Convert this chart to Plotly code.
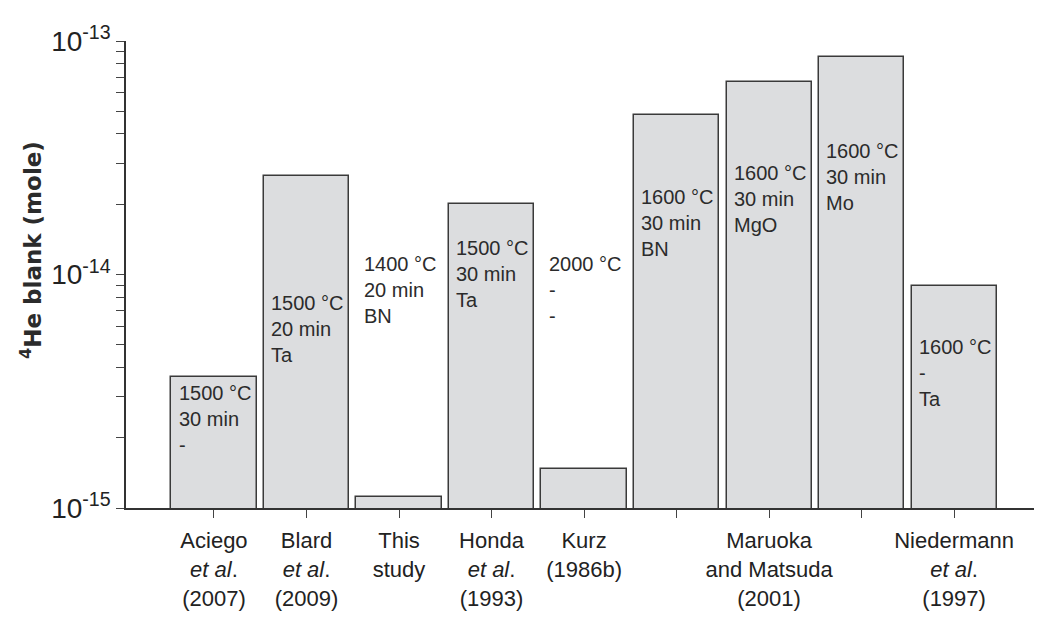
import plotly.graph_objects as go

# ---- data ----
categories = ["Aciego", "Blard", "This study", "Honda", "Kurz",
              "Maruoka BN", "Maruoka MgO", "Maruoka Mo", "Niedermann"]
he_blank = [3.65e-15, 2.64e-14, 1.12e-15, 2.0e-14, 1.465e-15,
            4.82e-14, 6.69e-14, 8.57e-14, 8.96e-15]
conditions = [
    ["1500 °C", "30 min", "-"],
    ["1500 °C", "20 min", "Ta"],
    ["1400 °C", "20 min", "BN"],
    ["1500 °C", "30 min", "Ta"],
    ["2000 °C", "-", "-"],
    ["1600 °C", "30 min", "BN"],
    ["1600 °C", "30 min", "MgO"],
    ["1600 °C", "30 min", "Mo"],
    ["1600 °C", "-", "Ta"],
]
tick_labels = [
    "Aciego<br><i>et al</i>.<br>(2007)",
    "Blard<br><i>et al</i>.<br>(2009)",
    "This<br>study",
    "Honda<br><i>et al</i>.<br>(1993)",
    "Kurz<br>(1986b)",
    "",
    "Maruoka<br>and Matsuda<br>(2001)",
    "",
    "Niedermann<br><i>et al</i>.<br>(1997)",
]

# ---- layout helpers (label positions, log10 units) ----
label_log_y = [-14.619, -14.233, -14.066, -13.998, -14.066,
               -13.779, -13.677, -13.582, -14.422]

x = list(range(len(categories)))
bar_width = 0.92

# page has an 8px body margin; compensate so the plot lands where intended
OFF = 8
W, H = 1042 - OFF, 617 - OFF
ml, mr, mt, mb = 126 - OFF, 0, 41 - OFF, 109
pw, ph = W - ml - mr, H - mt - mb

fig = go.Figure()
fig.add_trace(go.Bar(
    x=x, y=he_blank, width=bar_width,
    marker=dict(color="#dcdddf", line=dict(color="#3a3a3a", width=1.5)),
    hoverinfo="skip", showlegend=False,
))

for i, (lines, ly) in enumerate(zip(conditions, label_log_y)):
    fig.add_annotation(
        x=i - bar_width / 2 + 0.055, y=ly, xref="x", yref="y",
        text="<br>".join(lines), showarrow=False,
        xanchor="left", yanchor="middle", align="left",
        font=dict(family="Liberation Sans, Arial, sans-serif", size=20, color="#2b2b2b"),
    )

# y-axis title as annotation (page pixel position converted to paper coords)
title_px_x, title_px_y = 31 - OFF, 250 - OFF
fig.add_annotation(
    x=(title_px_x - ml) / pw, y=(H - mb - title_px_y) / ph, xref="paper", yref="paper",
    text="<b><sup>4</sup>He blank (mole)</b>", showarrow=False, textangle=-90,
    font=dict(family="DejaVu Sans, sans-serif", size=23, color="#2b2b2b"),
    xanchor="center", yanchor="middle",
)

# y tick values: majors with labels, minors without
tickvals, ticktext = [], []
for e in (-15, -14):
    for m in range(1, 10):
        tickvals.append(m * 10.0 ** e)
        ticktext.append(f"10<sup>{e}</sup>" if m == 1 else "")
tickvals.append(1e-13)
ticktext.append("10<sup>-13</sup>")

fig.update_layout(
    width=W, height=H,
    margin=dict(l=ml, r=mr, t=mt, b=mb, pad=0, autoexpand=False),
    plot_bgcolor="white", paper_bgcolor="white",
    font=dict(family="Liberation Sans, Arial, sans-serif", color="#222222"),
    xaxis=dict(
        range=[-0.951, 8.95], tickmode="array", tickvals=x, ticktext=tick_labels,
        ticks="outside", ticklen=8, tickwidth=1.2, tickcolor="#444444",
        showline=True, linecolor="#333333", linewidth=2,
        showgrid=False, zeroline=False, automargin=False,
        ticklabelstandoff=4,
        tickfont=dict(size=22, color="#222222"),
    ),
    yaxis=dict(
        type="log", range=[-15, -13], tickmode="array",
        tickvals=tickvals, ticktext=ticktext,
        ticks="outside", ticklen=8, tickwidth=1.2, tickcolor="#444444",
        showline=True, linecolor="#333333", linewidth=1.5,
        showgrid=False, zeroline=False, automargin=False,
        tickfont=dict(size=28, color="#222222"),
    ),
    bargap=0,
)

fig.write_html("out.html")
